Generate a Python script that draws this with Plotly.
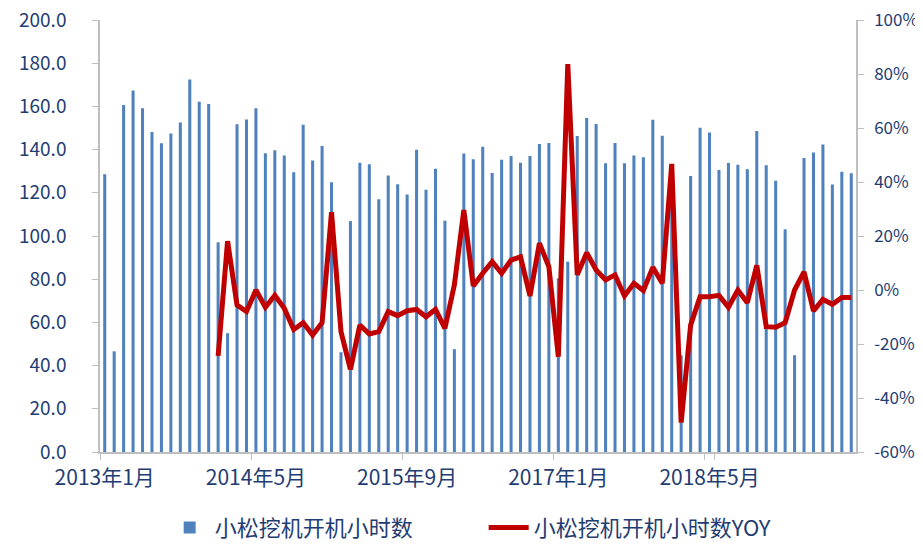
import plotly.graph_objects as go

# ---- data ----
start_year = 2013
n_months = 80
months = [f"{start_year + i // 12}年{i % 12 + 1}月" for i in range(n_months)]

hours = [
    128.6, 46.6, 160.6, 167.4, 159.1, 148.1, 142.9, 147.5, 152.6, 172.5, 162.2, 161.1,  # 2013
    97.1, 55.0, 151.7, 153.9, 159.1, 138.3, 139.7, 137.3, 129.5, 151.5, 134.9, 141.7,   # 2014
    124.9, 46.2, 106.9, 133.9, 133.2, 117.0, 128.0, 124.0, 119.2, 139.9, 121.4, 131.1,  # 2015
    107.1, 47.6, 138.2, 135.5, 141.3, 129.2, 135.3, 137.0, 133.9, 137.0, 142.6, 143.0,  # 2016
    80.4, 88.1, 146.3, 154.6, 151.8, 133.7, 143.1, 133.7, 137.3, 136.5, 153.8, 146.4,   # 2017
    118.0, 44.8, 127.8, 150.1, 147.9, 130.6, 133.8, 133.0, 130.9, 148.6, 132.7, 125.6,  # 2018
    103.1, 44.8, 136.1, 138.7, 142.4, 123.8, 129.7, 129.0,                              # 2019
]

yoy = [None] * 12 + [
    -24.4, 18.1, -5.6, -8.0, 0.0, -6.4, -2.0, -6.8, -14.6, -12.1, -16.7, -12.1,        # 2014
    28.8, -15.4, -29.4, -13.0, -16.3, -15.4, -8.0, -9.5, -7.7, -7.2, -9.9, -7.2,       # 2015
    -14.2, 1.9, 29.6, 1.5, 6.2, 10.5, 6.2, 11.1, 12.3, -2.2, 17.3, 8.6,                # 2016
    -24.7, 83.7, 5.6, 13.8, 7.4, 3.7, 5.6, -2.2, 2.5, -0.2, 8.4, 2.5,                  # 2017
    46.7, -49.1, -13.0, -2.5, -2.5, -2.0, -6.4, 0.0, -4.7, 9.1, -13.6, -13.8,          # 2018
    -12.1, 0.0, 6.7, -7.7, -3.5, -5.3, -2.8, -2.8,                                     # 2019
]

x_tick_labels = ["2013年1月", "2014年5月", "2015年9月", "2017年1月", "2018年5月"]
left_ticks = [0, 20, 40, 60, 80, 100, 120, 140, 160, 180, 200]
right_ticks = [-60, -40, -20, 0, 20, 40, 60, 80, 100]
right_tick_text = [f"{v}%" for v in right_ticks]

series_bar = "小松挖机开机小时数"
series_line = "小松挖机开机小时数YOY"

# ---- styles ----
FONT = "Noto Sans CJK SC"
TXT = "#1F3D72"
AXIS = "#BFBFBF"

fig = go.Figure()
fig.add_trace(go.Bar(
    x=months, y=hours, name=series_bar,
    marker=dict(color="#4F81BD", line=dict(width=0)),
    yaxis="y",
))
fig.add_trace(go.Scatter(
    x=months, y=yoy, name=series_line, mode="lines",
    line=dict(color="#C00000", width=5),
    connectgaps=False,
    yaxis="y2",
))

fig.update_layout(
    width=907, height=532,
    margin=dict(l=92, r=59, t=12, b=88, autoexpand=False),
    paper_bgcolor="white", plot_bgcolor="white",
    bargap=0.68,
    font=dict(family=FONT, color=TXT),
    showlegend=True,
    legend=dict(
        orientation="h", x=0.5075, xanchor="center", y=-0.175, yanchor="middle",
        font=dict(size=22, color=TXT, family=FONT),
        itemwidth=40, tracegroupgap=0, entrywidth=264,
    ),
    xaxis=dict(
        type="category", automargin=False,
        tickmode="array", tickvals=x_tick_labels, ticktext=x_tick_labels,
        tickson="boundaries", tickangle=0,
        ticks="outside", ticklen=6, tickcolor=AXIS, tickwidth=1,
        showline=True, linecolor=AXIS, linewidth=1.5,
        showgrid=False, zeroline=False,
        tickfont=dict(size=21, color=TXT, family=FONT),
        ticklabelstandoff=6,
        range=[-0.5, n_months - 0.5],
    ),
    yaxis=dict(
        range=[0, 200], tickmode="array", tickvals=left_ticks, automargin=False,
        tickformat=".1f", ticklabeloverflow="allow",
        ticks="outside", ticklen=6, tickcolor=AXIS,
        showline=True, linecolor=AXIS, linewidth=1.5,
        showgrid=False, zeroline=False,
        tickfont=dict(size=19, color=TXT, family=FONT),
        ticklabelstandoff=22,
    ),
    yaxis2=dict(
        range=[-60, 100], overlaying="y", side="right", automargin=False,
        tickmode="array", tickvals=right_ticks, ticktext=right_tick_text,
        ticklabeloverflow="allow",
        ticks="outside", ticklen=6, tickcolor=AXIS,
        showline=True, linecolor=AXIS, linewidth=1.5,
        showgrid=False, zeroline=False,
        tickfont=dict(size=17, color=TXT, family=FONT),
        ticklabelstandoff=7,
    ),
)

fig.write_html("out.html")
